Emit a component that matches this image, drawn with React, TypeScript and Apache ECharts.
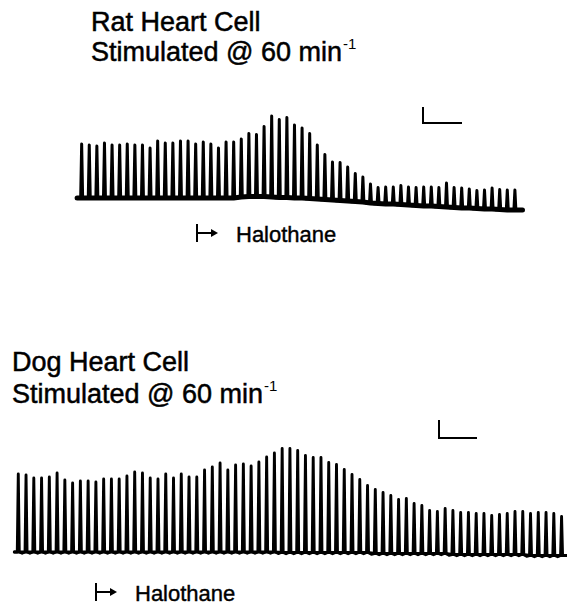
import React, { useEffect, useRef } from "react";
import * as echarts from "echarts";

// Beat-by-beat contraction amplitudes (arbitrary units)
const ratAmplitude = [54, 53, 52, 55, 53, 53, 54, 53, 53, 50, 57, 55, 55, 57, 57, 54, 56, 54, 50, 56, 56, 58, 63, 62, 70, 81, 78, 80, 73, 70, 65, 54, 45, 38, 38, 34, 28, 25, 19, 16, 17, 17, 19, 18, 18, 19, 19, 19, 24, 20, 20, 19, 18, 19, 21, 20, 20, 20];
const ratBaseline = [0, 0, 0, 0, 0, 0, 0, 0, 0, 0, 0, 0, 0, 0, 0, 0, 0, 0, 0, 0, 0, 1, 1.5, 1.5, 1.5, 1, 0.5, 0.5, 0, 0, -0.5, -1, -1.5, -2, -2.5, -3, -3.5, -4, -5, -5.5, -6, -6, -6.5, -7, -7.5, -8, -8, -8.5, -9, -9.5, -10, -10, -10.5, -11, -11, -11.5, -12, -12];

const dogAmplitude = [78, 77, 74, 74, 75, 79, 72, 69, 71, 71, 70, 73, 73, 73, 76, 80, 79, 74, 73, 78, 74, 78, 75, 75, 82, 85, 89, 82, 87, 88, 86, 90, 95, 99, 104, 104, 102, 97, 95, 95, 90, 88, 83, 78, 73, 67, 64, 61, 58, 54, 55, 50, 48, 43, 42, 45, 44, 42, 42, 41, 41, 39, 40, 41, 43, 43, 42, 43, 43, 42, 39];
const dogBaseline = [0, 0, 0, 0, 0, 0, 0, 0, 0, 0, 0, 0, 0, 0, 0, 0, 0, 0, 0, 0, 0, 0, 0, 0, 0, 0, 0, 0, 0, 0, 0, 0, 0, 0, -0.5, -0.5, -0.5, -0.5, -0.5, -0.5, -0.5, -0.5, -0.5, -0.5, -0.5, -0.5, -1.5, -1.5, -1.5, -1.5, -1.5, -1.5, -1.5, -1.5, -1.5, -1.5, -2.5, -2.5, -2.5, -2.5, -2.5, -2.5, -2.5, -2.5, -2.5, -2.5, -3.5, -3.5, -3.5, -3.5, -3.5];

const ratTitle = "Rat Heart Cell";
const dogTitle = "Dog Heart Cell";
const stimText = "Stimulated @ 60 min";
const stimSup = "-1";
const drugLabel = "Halothane";

function buildTrace(amps: number[], base: number[], xMin: number, xMax: number, half: number, dip: number) {
  const pts: number[][] = [[xMin, base[0]]];
  amps.forEach((a, i) => {
    const b = base[i];
    const nb = i + 1 < base.length ? base[i + 1] : b;
    pts.push([i - half, b]);
    pts.push([i, b + a]);
    pts.push([i + half, b]);
    if (i + 1 < amps.length) pts.push([i + 0.5, (b + nb) / 2 - dip]);
  });
  pts.push([xMax, base[base.length - 1]]);
  return pts;
}

function buildBase(base: number[], xMin: number, xMax: number) {
  const pts: number[][] = [[xMin, base[0]]];
  base.forEach((b, i) => pts.push([i, b]));
  pts.push([xMax, base[base.length - 1]]);
  return pts;
}

export default function App() {
  const ref = useRef<HTMLDivElement>(null);
  useEffect(() => {
    document.body.style.margin = "0";
    const chart = echarts.init(ref.current!, null, { renderer: "svg" });
    const ratMin = -0.6, ratMax = 58.0;
    const dogMin = -0.5, dogMax = 70.7;
    const font = '"Liberation Sans", Arial, Helvetica, sans-serif';
    const titleSize = 27;
    const labelSize = 22;
    const ink = "#000";
    const halothane = (x: number, y: number, id: string) => ({
      type: "group",
      id,
      children: [
        { type: "line", shape: { x1: x, y1: y - 9, x2: x, y2: y + 9 }, style: { stroke: ink, lineWidth: 2 } },
        { type: "line", shape: { x1: x, y1: y, x2: x + 15, y2: y }, style: { stroke: ink, lineWidth: 2 } },
        { type: "polygon", shape: { points: [[x + 14, y - 4], [x + 21, y], [x + 14, y + 4]] }, style: { fill: ink } },
        { type: "text", x: x + 39, y: y + 1, style: { text: drugLabel, font: `${labelSize}px ${font}`, fill: ink, stroke: ink, lineWidth: 0.4, verticalAlign: "middle" } },
      ],
    });
    const stim = (x: number, y: number) => ({
      type: "text",
      x,
      y,
      style: {
        text: `{m|${stimText}}{s|${stimSup}}`,
        fill: ink,
        rich: {
          m: { font: `${titleSize}px ${font}`, fill: ink, stroke: ink, lineWidth: 0.5, lineHeight: 32 },
          s: { font: `15px ${font}`, fill: ink, verticalAlign: "top", lineHeight: 32, padding: [0, 0, 14, 1] },
        },
      },
    });
    const title = (x: number, y: number, text: string) => ({
      type: "text", x, y,
      style: { text, font: `${titleSize}px ${font}`, fill: ink, stroke: ink, lineWidth: 0.5 },
    });
    const scaleBar = (x: number, y: number, h: number, w: number) => ({
      type: "polyline",
      shape: { points: [[x, y], [x, y + h], [x + w, y + h]] },
      style: { stroke: ink, lineWidth: 2, fill: null },
    });
    chart.setOption({
      animation: false,
      backgroundColor: "#fff",
      grid: [
        { left: 77.1, top: 98, width: 445.4, height: 120 },
        { left: 14.4, top: 432, width: 553.5, height: 140 },
      ],
      xAxis: [
        { type: "value", gridIndex: 0, min: ratMin, max: ratMax, show: false },
        { type: "value", gridIndex: 1, min: dogMin, max: dogMax, show: false },
      ],
      yAxis: [
        { type: "value", gridIndex: 0, min: -20, max: 100, show: false },
        { type: "value", gridIndex: 1, min: -20, max: 120, show: false },
      ],
      series: [
        {
          type: "line", xAxisIndex: 0, yAxisIndex: 0, symbol: "none", silent: true,
          data: buildBase(ratBaseline, ratMin, ratMax),
          lineStyle: { color: ink, width: 5, join: "round", cap: "round" },
        },
        {
          type: "line", xAxisIndex: 0, yAxisIndex: 0, symbol: "none", silent: true,
          data: buildTrace(ratAmplitude, ratBaseline, ratMin, ratMax, 0.13, 0.6),
          lineStyle: { color: ink, width: 3, join: "round", cap: "round" },
        },
        {
          type: "line", xAxisIndex: 1, yAxisIndex: 1, symbol: "none", silent: true,
          data: buildBase(dogBaseline, dogMin, dogMax),
          lineStyle: { color: ink, width: 3.2, join: "round", cap: "round" },
        },
        {
          type: "line", xAxisIndex: 1, yAxisIndex: 1, symbol: "none", silent: true,
          data: buildTrace(dogAmplitude, dogBaseline, dogMin, dogMax, 0.13, 1.3),
          lineStyle: { color: ink, width: 2.9, join: "round", cap: "round" },
        },
      ],
      graphic: [
        title(91, 8, ratTitle),
        stim(91, 36),
        title(12, 348, dogTitle),
        stim(12, 378),
        scaleBar(423, 107, 16, 39),
        scaleBar(439, 420, 18, 38),
        halothane(197, 233, "h1"),
        halothane(96, 592, "h2"),
      ],
    });
    return () => chart.dispose();
  }, []);
  return <div ref={ref} style={{ width: 567, height: 606, background: "#fff" }} />;
}
